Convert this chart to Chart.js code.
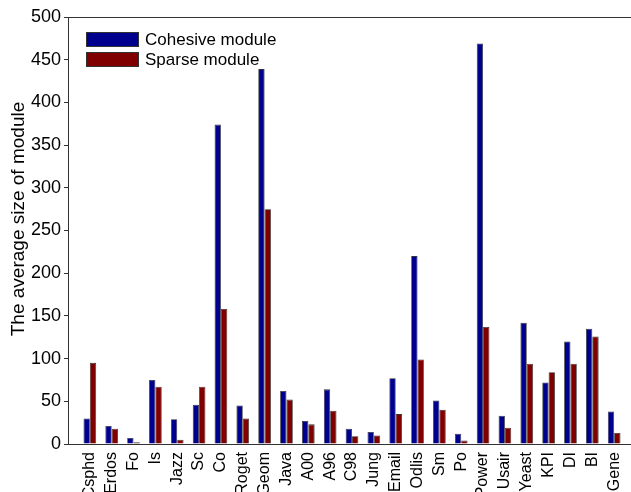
<!DOCTYPE html>
<html>
<head>
<meta charset="utf-8">
<script src="https://cdn.jsdelivr.net/npm/chart.js@4.4.0/dist/chart.umd.min.js"></script>
<style>
  html, body { margin: 0; padding: 0; background: #fff; overflow: hidden; }
  canvas { display: block; }
</style>
</head>
<body>
<canvas id="myChart" width="640" height="492"></canvas>
<script>
const networks = ['Csphd', 'Erdos', 'Fo', 'Is', 'Jazz', 'Sc', 'Co', 'Roget', 'Geom', 'Java', 'A00', 'A96',
    'C98', 'Jung', 'Email', 'Odlis', 'Sm', 'Po', 'Power', 'Usair', 'Yeast', 'KPI', 'DI', 'BI', 'Gene'];
const cohesive = [30, 21, 7, 75, 29, 46, 374, 45, 439, 62, 27, 64,
    18, 14, 77, 220, 51, 12, 469, 33, 142, 72, 120, 135, 38];
const sparse = [95, 18, 2, 67, 5, 67, 158, 30, 275, 52, 23, 39,
    9, 10, 35, 99, 40, 4, 137, 19, 94, 84, 94, 126, 13];
const yTicks = [0, 50, 100, 150, 200, 250, 300, 350, 400, 450, 500];
const yTitle = 'The average size of module';

document.addEventListener('DOMContentLoaded', function() {
    const ctx = document.getElementById('myChart').getContext('2d');
    const font = "'Liberation Sans', Arial, sans-serif";

    // frame round the plot, the y title and the legend in the top-left corner
    const boxAndLegend = {
        id: 'boxAndLegend',
        afterDraw(chart) {
            const a = chart.chartArea;
            const c = chart.ctx;
            c.save();
            c.strokeStyle = '#333';
            c.lineWidth = 1;
            c.strokeRect(a.left + 0.5, a.top + 0.5, a.right - a.left, a.bottom - a.top);

            c.save();
            c.translate(19, 219);
            c.rotate(-Math.PI / 2);
            c.font = '19px ' + font;
            c.fillStyle = '#000';
            c.textAlign = 'center';
            c.textBaseline = 'middle';
            c.fillText(yTitle, 0, 0);
            c.restore();

            c.font = '17px ' + font;
            c.textBaseline = 'middle';
            chart.data.datasets.forEach((ds, i) => {
                const y = 32 + i * 20;
                c.fillStyle = ds.backgroundColor;
                c.fillRect(86, y, 53, 15);
                c.strokeStyle = '#333';
                c.strokeRect(86.5, y + 0.5, 52, 14);
                c.fillStyle = '#000';
                c.fillText(ds.label, 145, y + 8);
            });
            c.restore();
        }
    };

    new Chart(ctx, {
        type: 'bar',
        data: {
            datasets: [{
                label: 'Cohesive module',
                data: cohesive.map((v, i) => ({ x: i + 1, y: v })),
                backgroundColor: '#00008f',
                borderColor: '#333',
                borderWidth: 0.8
            }, {
                label: 'Sparse module',
                data: sparse.map((v, i) => ({ x: i + 1, y: v })),
                backgroundColor: '#800000',
                borderColor: '#333',
                borderWidth: 0.8
            }]
        },
        options: {
            responsive: false,
            animation: false,
            categoryPercentage: 0.58,
            barPercentage: 1,
            layout: { padding: { top: 17, right: 4, left: 0, bottom: 0 } },
            plugins: {
                legend: { display: false },
                tooltip: { enabled: false }
            },
            scales: {
                x: {
                    type: 'linear',
                    offset: false,
                    min: 0,
                    max: 26,
                    afterBuildTicks: (axis) => {
                        axis.ticks = networks.map((n, i) => ({ value: i + 1 }));
                    },
                    afterFit: (axis) => { axis.height = 48; },
                    ticks: {
                        autoSkip: false,
                        maxRotation: 90,
                        minRotation: 90,
                        padding: 0,
                        color: '#000',
                        font: { family: font, size: 16 },
                        callback: (v) => networks[v - 1] || ''
                    },
                    grid: { display: false, drawOnChartArea: false },
                    border: { display: true, color: '#333' }
                },
                y: {
                    min: 0,
                    max: 500,
                    afterBuildTicks: (axis) => {
                        axis.ticks = yTicks.map(v => ({ value: v }));
                    },
                    afterFit: (axis) => { axis.width = 68; },
                    ticks: {
                        color: '#000',
                        padding: 3,
                        font: { family: font, size: 18 }
                    },
                    grid: {
                        drawOnChartArea: false,
                        tickLength: 4,
                        color: '#333'
                    },
                    border: { display: true, color: '#333' }
                }
            }
        },
        plugins: [boxAndLegend]
    });
});
</script>
</body>
</html>
